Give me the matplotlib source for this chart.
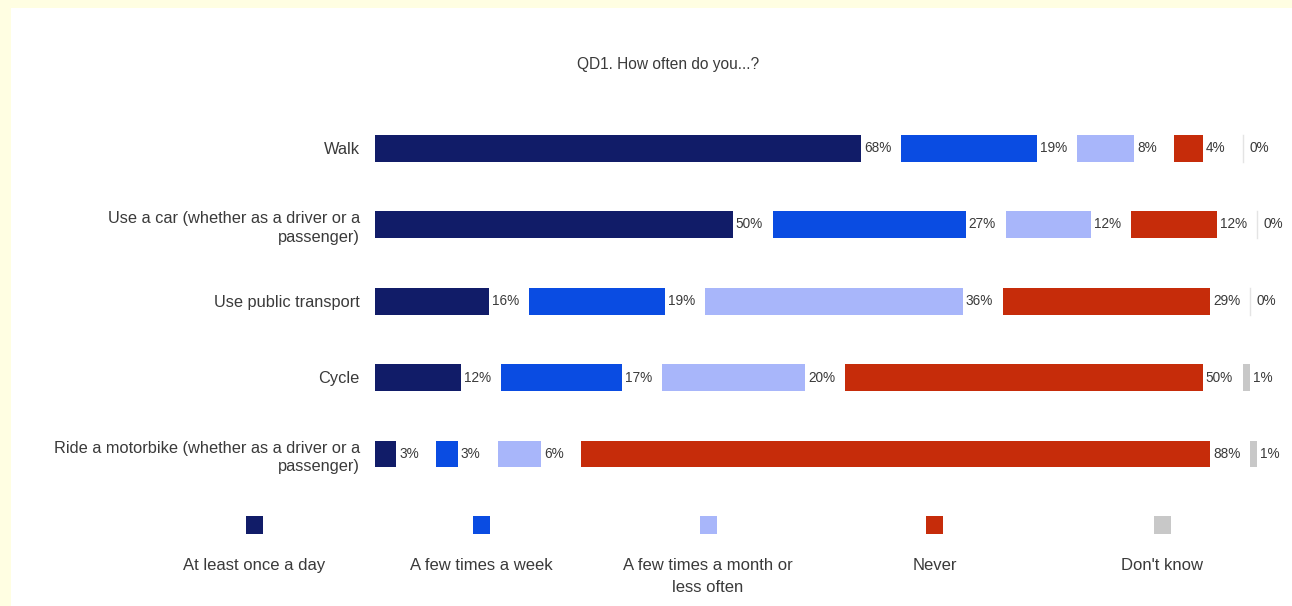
import matplotlib
matplotlib.use("Agg")
import matplotlib.pyplot as plt
from matplotlib.patches import Rectangle

plt.rcParams['font.family'] = ['Liberation Sans', 'DejaVu Sans']

title = "QD1. How often do you...?"
categories = [
    "Walk",
    "Use a car (whether as a driver or a\npassenger)",
    "Use public transport",
    "Cycle",
    "Ride a motorbike (whether as a driver or a\npassenger)",
]
series_names = [
    "At least once a day",
    "A few times a week",
    "A few times a month or\nless often",
    "Never",
    "Don't know",
]
at_least_daily = [68, 50, 16, 12, 3]
few_week = [19, 27, 19, 17, 3]
few_month = [8, 12, 36, 20, 6]
never = [4, 12, 29, 50, 88]
dont_know = [0, 0, 0, 1, 1]
series = [at_least_daily, few_week, few_month, never, dont_know]
colors = ["#111C68", "#0A4CE2", "#A8B6FA", "#C62C0A", "#C8C8C8"]
text_color = "#3A3A3A"

W, H = 1292, 606
fig = plt.figure(figsize=(W / 100, H / 100), dpi=100)
fig.patch.set_facecolor("#FFFEE2")
fig.add_artist(Rectangle((11 / W, 0), 1 - 11 / W, 1 - 8 / H,
                         transform=fig.transFigure, facecolor="white",
                         edgecolor="none", zorder=0))

px_per_unit = 7.15
gap = 40 / px_per_unit
xmax = 125
ax_left = 375
ax_w = xmax * px_per_unit
row = 76.5
top = 148 - row / 2
ax_h = row * 5
ax = fig.add_axes([ax_left / W, 1 - (top + ax_h) / H, ax_w / W, ax_h / H])
ax.set_facecolor("none")
ax.set_xlim(0, xmax)
ax.set_ylim(4.5, -0.5)
for s in ax.spines.values():
    s.set_visible(False)
ax.set_xticks([])
ax.set_yticks(range(len(categories)))
ax.set_yticklabels(categories, fontsize=11.8, color=text_color, linespacing=1.3)
ax.tick_params(axis='y', length=0, pad=11)

bar_h = 27 / row
pad = 5 / px_per_unit
for i in range(len(categories)):
    left = 0.0
    for k, vals in enumerate(series):
        v = vals[i]
        if v == 0:
            ax.plot([left, left], [i - bar_h / 2, i + bar_h / 2],
                    color="#E4E4E4", lw=1)
            lab_x = left + 0.9
        else:
            ax.barh(i, v, left=left, height=bar_h, color=colors[k],
                    edgecolor="none")
            lab_x = left + v + pad * 0.6
        ax.text(lab_x, i, f"{v}%", va="center", ha="left",
                fontsize=9.8, color=text_color)
        left += v + gap

fig.text(668 / W, 1 - 65 / H, title, ha="center", va="center",
         fontsize=11.2, color=text_color)

leg_x0 = 254
leg_dx = 227
sq = 17
for k, name in enumerate(series_names):
    cx = leg_x0 + k * leg_dx
    fig.add_artist(Rectangle(((cx - sq / 2) / W, 1 - 534 / H), sq / W, 18 / H,
                             transform=fig.transFigure, facecolor=colors[k],
                             edgecolor="none"))
    fig.text(cx / W, 1 - 558 / H, name, ha="center", va="top",
             fontsize=12, color=text_color, linespacing=1.55)

fig.savefig("out.png", dpi=100, facecolor=fig.get_facecolor())
